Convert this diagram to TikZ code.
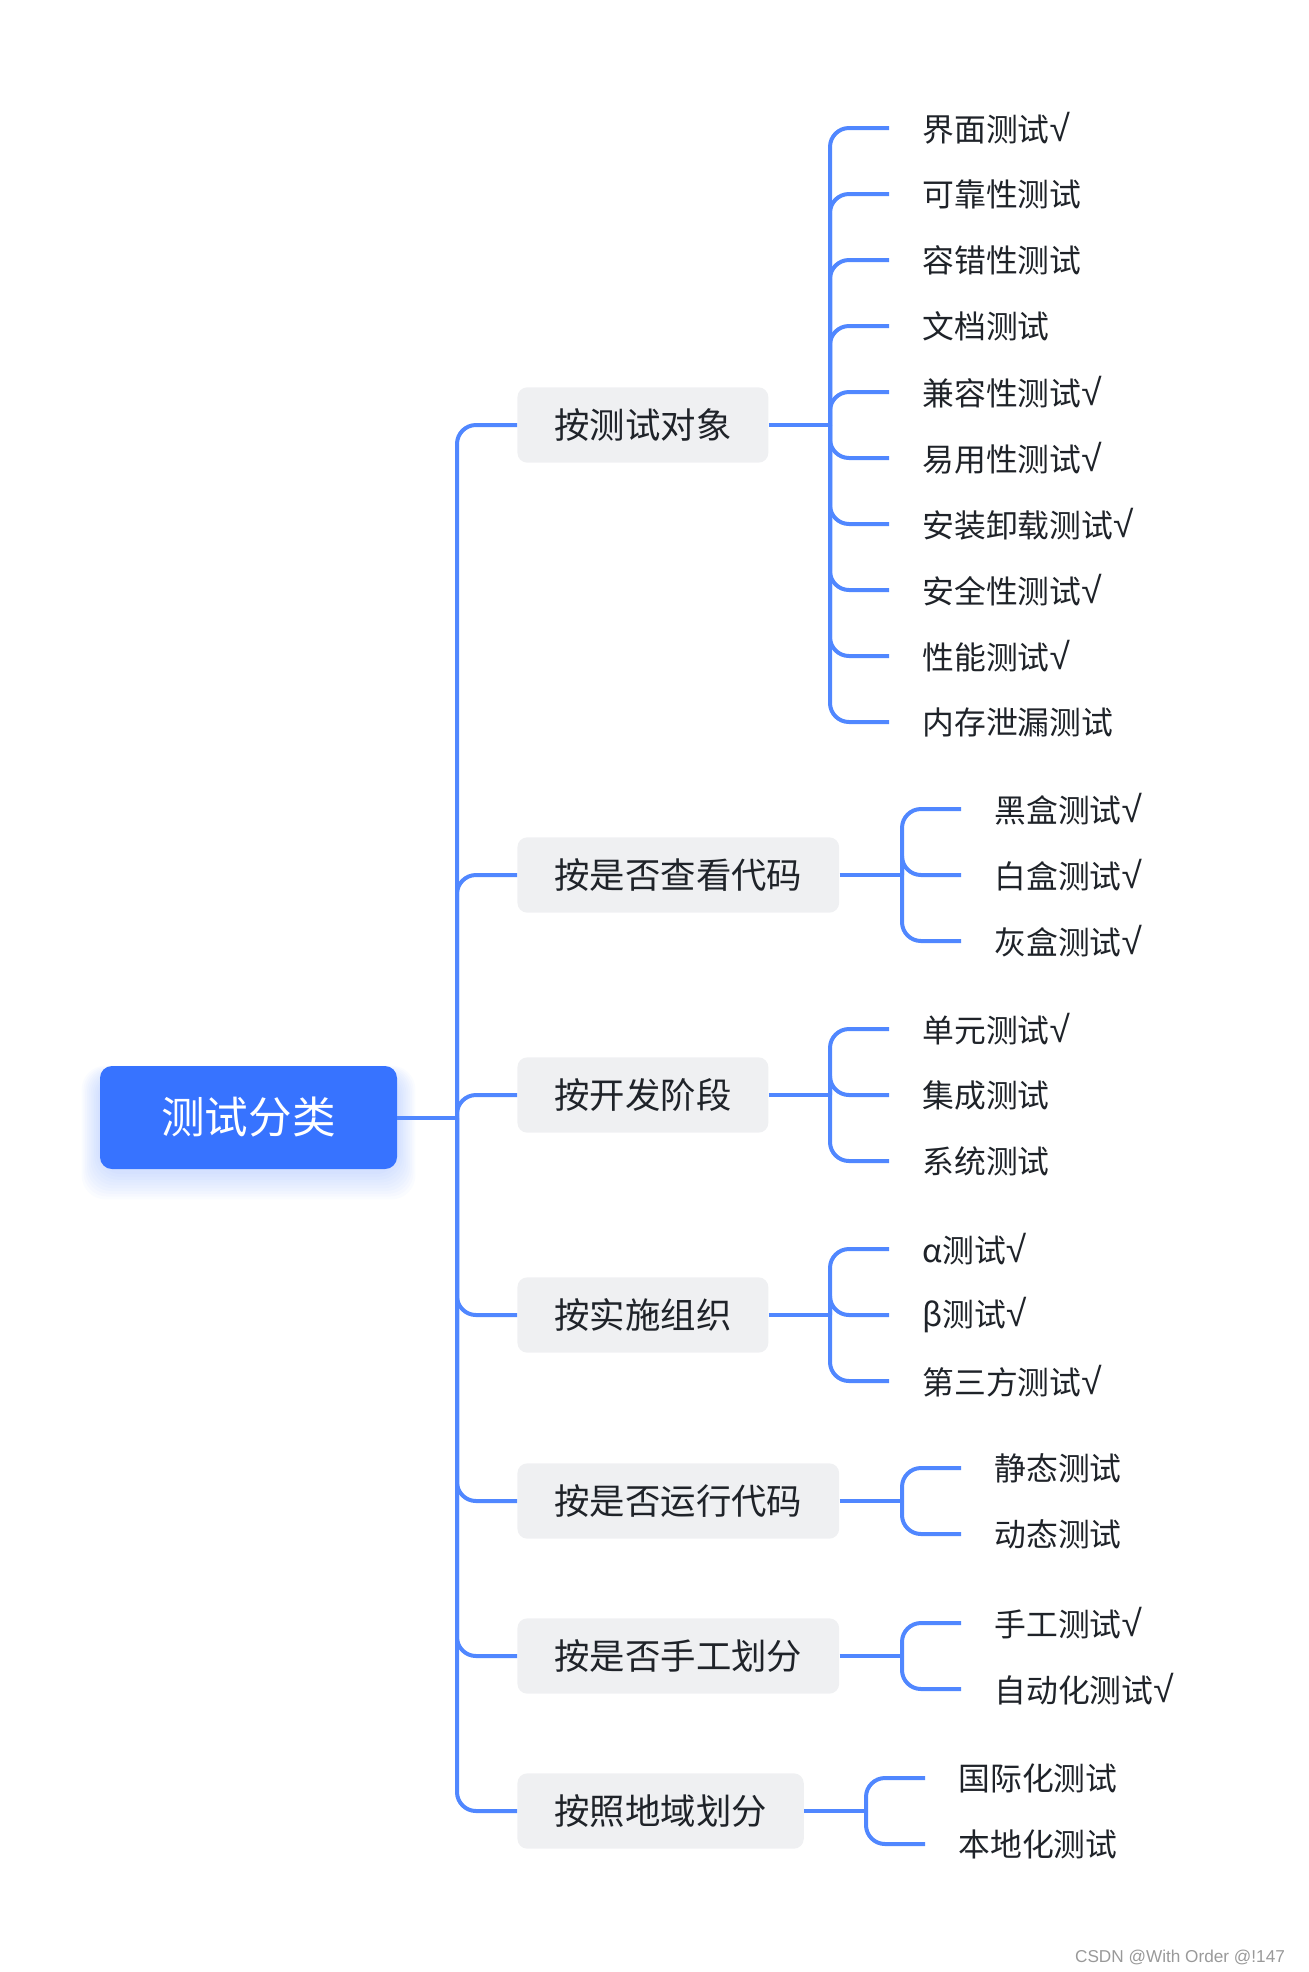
\documentclass[tikz,border=0pt]{standalone}
\usepackage{fontspec}
\setmainfont{Noto Sans CJK SC}
\newfontfamily\wmfont{Liberation Sans}
\newcommand{\ok}{{\wmfont\fontsize{18.5pt}{18pt}\selectfont √}}
\usetikzlibrary{backgrounds}
\definecolor{rootblue}{HTML}{3773FF}
\definecolor{linkblue}{HTML}{5087FF}
\definecolor{boxgray}{HTML}{EFF0F2}
\definecolor{inkgray}{HTML}{1F2329}

\begin{document}
\begin{tikzpicture}[x=0.5pt,y=-0.5pt,
	rootbox/.style={fill=rootblue, text=white, rounded corners=6pt, minimum width=148.5pt, minimum height=51.5pt, font=\fontsize{21.8pt}{24pt}\selectfont},
	branch/.style={anchor=west, fill=boxgray, text=inkgray, rounded corners=5pt, inner xsep=18.5pt, inner ysep=0pt, minimum height=37.7pt, font=\fontsize{17.7pt}{20pt}\selectfont},
	leaf/.style={anchor=west, inner sep=0pt, text=inkgray, font=\fontsize{15.9pt}{18pt}\selectfont},
	link/.style={draw=linkblue, line width=2pt, rounded corners=9.5pt}]

	\useasboundingbox (0,0) rectangle (1309,1972);

	% root and its glow
	\node[rootbox] (root) at (248.5,1117.5) {测试分类};
	\begin{scope}[on background layer]
		\foreach \s in {2,4,...,20}
			\fill[rootblue, opacity=0.025, rounded corners=12pt]
				([xshift=-\s*0.45pt, yshift=-\s*0.7pt-1pt]root.south west) rectangle ([xshift=\s*0.45pt, yshift=\s*0.2pt-4pt]root.north east);
	\end{scope}

	% first level
	\node[branch] (obj) at (517,425) {按测试对象};
	\node[branch] (code) at (517,875) {按是否查看代码};
	\node[branch] (stage) at (517,1095) {按开发阶段};
	\node[branch] (org) at (517,1315) {按实施组织};
	\node[branch] (run) at (517,1501) {按是否运行代码};
	\node[branch] (man) at (517,1656) {按是否手工划分};
	\node[branch] (reg) at (517,1811) {按照地域划分};

	% trunk
	\coordinate (trunk) at (457,1117.5);
	\draw[link] (root.east) -- (trunk);
	\draw[link] (trunk) |- (obj.west);
	\draw[link] (trunk) |- (code.west);
	\draw[link] (trunk) |- (stage.west);
	\draw[link] (trunk) |- (org.west);
	\draw[link] (trunk) |- (run.west);
	\draw[link] (trunk) |- (man.west);
	\draw[link] (trunk) |- (reg.west);

	% by object
	\node[leaf] (obj1) at (922,128) {界面测试\ok};
	\node[leaf] (obj2) at (922,194) {可靠性测试};
	\node[leaf] (obj3) at (922,260) {容错性测试};
	\node[leaf] (obj4) at (922,326) {文档测试};
	\node[leaf] (obj5) at (922,392) {兼容性测试\ok};
	\node[leaf] (obj6) at (922,458) {易用性测试\ok};
	\node[leaf] (obj7) at (922,524) {安装卸载测试\ok};
	\node[leaf] (obj8) at (922,590) {安全性测试\ok};
	\node[leaf] (obj9) at (922,656) {性能测试\ok};
	\node[leaf] (obj10) at (922,722) {内存泄漏测试};
	\coordinate (objb) at (830,425);
	\draw[link] (obj.east) -- (objb);
	\draw[link] (objb) |- ([xshift=-16.5pt]obj1.west);
	\draw[link] (objb) |- ([xshift=-16.5pt]obj2.west);
	\draw[link] (objb) |- ([xshift=-16.5pt]obj3.west);
	\draw[link] (objb) |- ([xshift=-16.5pt]obj4.west);
	\draw[link] (objb) |- ([xshift=-16.5pt]obj5.west);
	\draw[link] (objb) |- ([xshift=-16.5pt]obj6.west);
	\draw[link] (objb) |- ([xshift=-16.5pt]obj7.west);
	\draw[link] (objb) |- ([xshift=-16.5pt]obj8.west);
	\draw[link] (objb) |- ([xshift=-16.5pt]obj9.west);
	\draw[link] (objb) |- ([xshift=-16.5pt]obj10.west);

	% by code visibility
	\node[leaf] (code1) at (994,809) {黑盒测试\ok};
	\node[leaf] (code2) at (994,875) {白盒测试\ok};
	\node[leaf] (code3) at (994,941) {灰盒测试\ok};
	\coordinate (codeb) at (902,875);
	\draw[link] (code.east) -- (codeb);
	\draw[link] (codeb) |- ([xshift=-16.5pt]code1.west);
	\draw[link] (codeb) |- ([xshift=-16.5pt]code2.west);
	\draw[link] (codeb) |- ([xshift=-16.5pt]code3.west);

	% by stage
	\node[leaf] (stage1) at (922,1029) {单元测试\ok};
	\node[leaf] (stage2) at (922,1095) {集成测试};
	\node[leaf] (stage3) at (922,1161) {系统测试};
	\coordinate (stageb) at (830,1095);
	\draw[link] (stage.east) -- (stageb);
	\draw[link] (stageb) |- ([xshift=-16.5pt]stage1.west);
	\draw[link] (stageb) |- ([xshift=-16.5pt]stage2.west);
	\draw[link] (stageb) |- ([xshift=-16.5pt]stage3.west);

	% by organisation
	\node[leaf] (org1) at (922,1249) {α测试\ok};
	\node[leaf] (org2) at (922,1315) {β测试\ok};
	\node[leaf] (org3) at (922,1381) {第三方测试\ok};
	\coordinate (orgb) at (830,1315);
	\draw[link] (org.east) -- (orgb);
	\draw[link] (orgb) |- ([xshift=-16.5pt]org1.west);
	\draw[link] (orgb) |- ([xshift=-16.5pt]org2.west);
	\draw[link] (orgb) |- ([xshift=-16.5pt]org3.west);

	% by running
	\node[leaf] (run1) at (994,1468) {静态测试};
	\node[leaf] (run2) at (994,1534) {动态测试};
	\coordinate (runb) at (902,1501);
	\draw[link] (run.east) -- (runb);
	\draw[link] (runb) |- ([xshift=-16.5pt]run1.west);
	\draw[link] (runb) |- ([xshift=-16.5pt]run2.west);

	% by manual work
	\node[leaf] (man1) at (994,1623) {手工测试\ok};
	\node[leaf] (man2) at (994,1689) {自动化测试\ok};
	\coordinate (manb) at (902,1656);
	\draw[link] (man.east) -- (manb);
	\draw[link] (manb) |- ([xshift=-16.5pt]man1.west);
	\draw[link] (manb) |- ([xshift=-16.5pt]man2.west);

	% by region
	\node[leaf] (reg1) at (958,1778) {国际化测试};
	\node[leaf] (reg2) at (958,1844) {本地化测试};
	\coordinate (regb) at (866,1811);
	\draw[link] (reg.east) -- (regb);
	\draw[link] (regb) |- ([xshift=-16.5pt]reg1.west);
	\draw[link] (regb) |- ([xshift=-16.5pt]reg2.west);

	\node[anchor=east, text=gray!80, font=\wmfont\fontsize{8.6pt}{10pt}\selectfont] (mark) at (1292,1957) {CSDN @With Order @!147};

\end{tikzpicture}
\end{document}
